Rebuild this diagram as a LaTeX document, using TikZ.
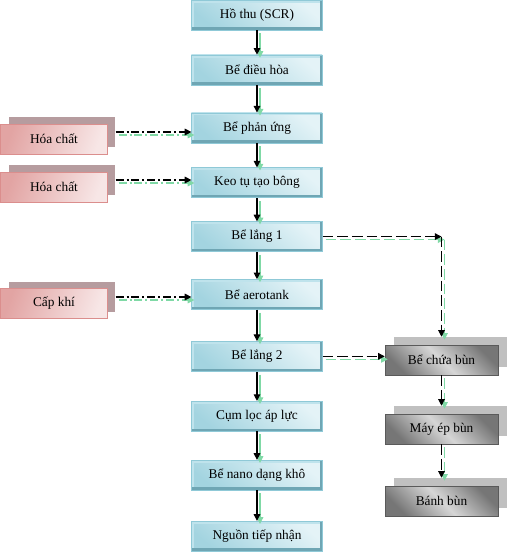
\documentclass[tikz,border=0pt]{standalone}
\usepackage{fontspec}
\setmainfont{Liberation Serif}
\usepackage{tikz}
\usepackage{xcolor}
\definecolor{TankPale}{HTML}{E4F3F7}
\definecolor{TankDeep}{HTML}{A3D4E0}
\definecolor{TankLite}{HTML}{BFE3EC}
\definecolor{TankDark}{HTML}{6FA6B4}
\definecolor{TankRim}{HTML}{8FC9D7}
\definecolor{PinkPale}{HTML}{F7E6E6}
\definecolor{PinkDeep}{HTML}{E2A4A3}
\definecolor{PinkRim}{HTML}{DB8E8D}
\definecolor{ChemShade}{HTML}{B69C9F}
\definecolor{MudLight}{HTML}{D6D6D6}
\definecolor{MudDark}{HTML}{767676}
\definecolor{MudRim}{HTML}{5A5A5A}
\definecolor{MudShade}{HTML}{C0C0C0}
\definecolor{ShadeGreen}{HTML}{80D9A6}
\usetikzlibrary{arrows.meta, positioning}

\tikzset{
  tank/.style={minimum width=98pt, minimum height=22.5pt, inner sep=0pt,
    draw=TankRim, bottom color=TankDeep, top color=TankPale, shading angle=-40,
    path picture={
      \draw[TankLite, line width=4pt] (path picture bounding box.south west) |- (path picture bounding box.north east);
      \draw[TankDark, line width=4pt] (path picture bounding box.north east) |- (path picture bounding box.south west);
    }},
  chem/.style={minimum width=80pt, minimum height=22.5pt, inner sep=0pt,
    draw=PinkRim, left color=PinkDeep, right color=PinkPale, shading angle=70},
  chemback/.style={minimum width=80pt, minimum height=22.5pt, fill=ChemShade},
  mud/.style={minimum width=84.75pt, minimum height=22.5pt, inner sep=0pt,
    draw=MudRim, top color=MudDark, bottom color=MudDark, middle color=MudLight, shading angle=-45},
  mudback/.style={minimum width=84.75pt, minimum height=22.5pt, fill=MudShade},
  flow/.style={-{Triangle[length=5pt,width=5pt]}, line width=0.8pt},
  feed/.style={flow, dash pattern=on 6pt off 2.2pt on 1.5pt off 2.2pt},
  sludge/.style={flow, dash pattern=on 8pt off 3pt},
  greenpass/.style={ShadeGreen, transform canvas={shift={(3,3)}}},
  blackpass/.style={black}
}

\begin{document}
\begin{tikzpicture}[x=0.75pt, y=-0.75pt]
        \useasboundingbox (0,0) rectangle (507,554);

        % main water line
        \node (ht) [tank] at (257,15) {Hồ thu (SCR)};
        \node (bdh) [tank, below=18.3pt of ht] {Bể điều hòa};
        \node (bpu) [tank, below=20.5pt of bdh] {Bể phản ứng};
        \node (kt) [tank, below=18.3pt of bpu] {Keo tụ tạo bông};
        \node (bl1) [tank, below=17.5pt of kt] {Bể lắng 1};
        \node (aer) [tank, below=20.5pt of bl1] {Bể aerotank};
        \node (bl2) [tank, below=23.5pt of aer] {Bể lắng 2};
        \node (clo) [tank, below=22pt of bl2] {Cụm lọc áp lực};
        \node (nano) [tank, below=21.3pt of clo] {Bể nano dạng khô};
        \node (ngu) [tank, below=22.8pt of nano] {Nguồn tiếp nhận};

        % inputs on the left
        \node (hc1s) [chemback] at (62,132) {};
        \node (hc1) [chem] at (54,139) {Hóa chất};
        \node (hc2s) [chemback] at (62,180) {};
        \node (hc2) [chem] at (54,187) {Hóa chất};
        \node (ckhs) [chemback] at (62,297) {};
        \node (ckh) [chem] at (54,303) {Cấp khí};

        % sludge line
        \node (bcbs) [mudback] at (450,352) {};
        \node (bcb) [mud] at (441.5,360) {Bể chứa bùn};
        \node (meps) [mudback] at (450,421) {};
        \node (mep) [mud] at (441.5,429) {Máy ép bùn};
        \node (bbs) [mudback] at (450,493) {};
        \node (bb) [mud] at (441.5,501) {Bánh bùn};

        \coordinate (turn) at (bcb.north |- bl1.east);

        \foreach \pass in {greenpass, blackpass} {
          \begin{scope}[\pass]
            \foreach \a/\b in {ht/bdh, bdh/bpu, bpu/kt, kt/bl1, bl1/aer, aer/bl2, bl2/clo, clo/nano, nano/ngu}
              \draw[flow] (\a) -- (\b);
            \draw[feed] (hc1s.east) -- (hc1s.east -| bpu.west);
            \draw[feed] (hc2s.east) -- (hc2s.east -| kt.west);
            \draw[feed] (ckhs.east) -- (ckhs.east -| aer.west);
            \draw[sludge] (bl1.east) -- (turn);
            \draw[sludge] (turn) -- (turn |- bcbs.north);
            \draw[sludge] (bl2.east) -- (bl2.east -| bcb.west);
            \draw[sludge] (bcb.south) -- (bcb.south |- meps.north);
            \draw[sludge] (mep.south) -- (mep.south |- bbs.north);
          \end{scope}
        }
    \end{tikzpicture}
\end{document}
